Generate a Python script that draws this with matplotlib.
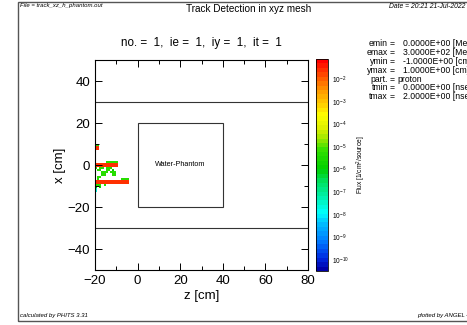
import numpy as np
import matplotlib
matplotlib.use("Agg")
from matplotlib import pyplot as plt
from matplotlib.colors import LinearSegmentedColormap, LogNorm
from matplotlib.patches import Rectangle
from matplotlib.ticker import MultipleLocator

plt.rcParams['font.family'] = ['Liberation Sans', 'DejaVu Sans']
plt.rcParams['mathtext.fontset'] = 'custom'
plt.rcParams['mathtext.rm'] = 'Liberation Sans'
plt.rcParams['mathtext.it'] = 'Liberation Sans:italic'

# mesh (cm): z cells from -20 to -4, x cells from 10 down to -13
z_edges = np.arange(-20, -3, 1)
x_top = 10
# flux levels
levels = {'.': np.nan, 'r': 2.5e-2, 'o': 8e-3, 'g': 4e-6, 'G': 1.5e-6, 'c': 2e-8}
rows = [
    "gg..............",
    "rr..............",
    "rr..............",
    "................",
    "................",
    "................",
    "................",
    "................",
    ".....gggggg.....",
    "rrrrrrrrrrr.....",
    "rrrrrrrrrrr.....",
    "g.gg.ggg........",
    ".gg..gg.G.......",
    "...ggg.ggg......",
    "...gg...gg......",
    ".gg.............",
    ".g..........gggg",
    "rrrrrrrrrrrrrrrr",
    "rrrrrrrrrrrrrrrr",
    "ggg.g...........",
    "G.G.............",
    "c...............",
    "c...............",
]
flux = np.array([[levels[ch] for ch in r] for r in rows])
x_edges = x_top - np.arange(len(rows) + 1)

# detector outlines
phantom_z = [0, 40]
phantom_x = [-20, 20]
wall_x = [30, -30]

params = [("emin", "=", "0.0000E+00 [MeV]"), ("emax", "=", "3.0000E+02 [MeV]"),
          ("ymin", "=", "-1.0000E+00 [cm]"), ("ymax", "=", "1.0000E+00 [cm]"),
          ("part.", "=", "proton"), ("tmin", "=", "0.0000E+00 [nsec]"),
          ("tmax", "=", "2.0000E+00 [nsec]")]

cmap = LinearSegmentedColormap.from_list("angel", [
    (0.00, "#0000a8"), (0.05, "#0028e0"), (0.13, "#0078ff"), (0.22, "#00c0ff"),
    (0.27, "#00ffff"), (0.35, "#00f0a8"), (0.42, "#00e060"), (0.48, "#00d000"),
    (0.57, "#30e000"), (0.63, "#a0e800"), (0.68, "#e0f000"), (0.74, "#ffff00"),
    (0.79, "#ffd000"), (0.85, "#ffa000"), (0.90, "#ff7000"), (0.95, "#ff3800"),
    (1.00, "#ff0000")], N=48)
norm = LogNorm(vmin=10 ** -10.5, vmax=10 ** -1.1)

fig = plt.figure(figsize=(4.67, 3.25), dpi=100)
fig.patches.append(Rectangle((18 / 467, 4 / 325), 1.0, 319 / 325, transform=fig.transFigure,
                             fill=False, edgecolor="#555555", linewidth=1.0))

ax = fig.add_axes([95 / 467, 55 / 325, 213 / 467, 210 / 325])
zz, xx = np.meshgrid(z_edges, x_edges)
ax.pcolormesh(zz, xx, np.ma.masked_invalid(flux), cmap=cmap, norm=norm)
ax.axhline(wall_x[0], color="#333333", lw=0.8)
ax.axhline(wall_x[1], color="#333333", lw=0.8)
ax.add_patch(Rectangle((phantom_z[0], phantom_x[0]), phantom_z[1] - phantom_z[0],
                       phantom_x[1] - phantom_x[0], fill=False, edgecolor="#333333", lw=0.8))
ax.text(20, 0, "Water-Phantom", ha="center", va="center", fontsize=5.2)
ax.set_xlim(-20, 80)
ax.set_ylim(-50, 50)
ax.xaxis.set_major_locator(MultipleLocator(20))
ax.xaxis.set_minor_locator(MultipleLocator(10))
ax.yaxis.set_major_locator(MultipleLocator(20))
ax.yaxis.set_minor_locator(MultipleLocator(10))
ax.tick_params(which="both", direction="in", top=True, right=True, labelsize=9.5, width=0.7)
ax.tick_params(which="major", length=5)
ax.tick_params(which="minor", length=3)
for s in ax.spines.values():
    s.set_linewidth(0.8)
ax.set_xlabel("z [cm]", fontsize=9.5, labelpad=2)
ax.set_ylabel("x [cm]", fontsize=9.5, labelpad=1)

cax = fig.add_axes([316 / 467, 54 / 325, 12 / 467, 212 / 325])
cb = fig.colorbar(plt.cm.ScalarMappable(norm=norm, cmap=cmap), cax=cax)
cb.outline.set_linewidth(0.6)
cb.set_ticks([10.0 ** e for e in range(-10, -1)])
cb.set_ticklabels(["$10^{%d}$" % e for e in range(-10, -1)])
cb.ax.minorticks_off()
cb.ax.tick_params(labelsize=4.8, length=0, pad=3)
cb.set_label("Flux [1/cm$^2$/source]", fontsize=4.8, labelpad=4)

fig.text(249 / 467, 1 - 9 / 325, "Track Detection in xyz mesh", ha="center", va="center", fontsize=7.2)
fig.text(201 / 467, 1 - 43 / 325, "no. =  1,  ie =  1,  iy =  1,  it =  1", ha="center", va="center", fontsize=8.4)
fig.text(20 / 467, 1 - 6 / 325, "File = track_xz_h_phantom.out", ha="left", va="center", fontsize=4.3, style="italic")
fig.text(389 / 467, 1 - 6 / 325, "Date = 20:21 21-Jul-2022", ha="left", va="center", fontsize=4.9, style="italic")
fig.text(20 / 467, 1 - 315 / 325, "calculated by PHITS 3.31", ha="left", va="center", fontsize=4.3, style="italic")
fig.text(417 / 467, 1 - 315 / 325, "plotted by ANGEL 4.xx", ha="left", va="center", fontsize=4.3, style="italic")

for i, (name, eq, val) in enumerate(params):
    y = 1 - (44 + 8.8 * i) / 325
    fig.text(388 / 467, y, name, ha="right", va="center", fontsize=6.2)
    fig.text(392 / 467, y, eq, ha="center", va="center", fontsize=6.2)
    fig.text(397 / 467 if name == "part." else 403 / 467, y, val, ha="left", va="center", fontsize=6.2)

fig.savefig("out.png", dpi=100)
